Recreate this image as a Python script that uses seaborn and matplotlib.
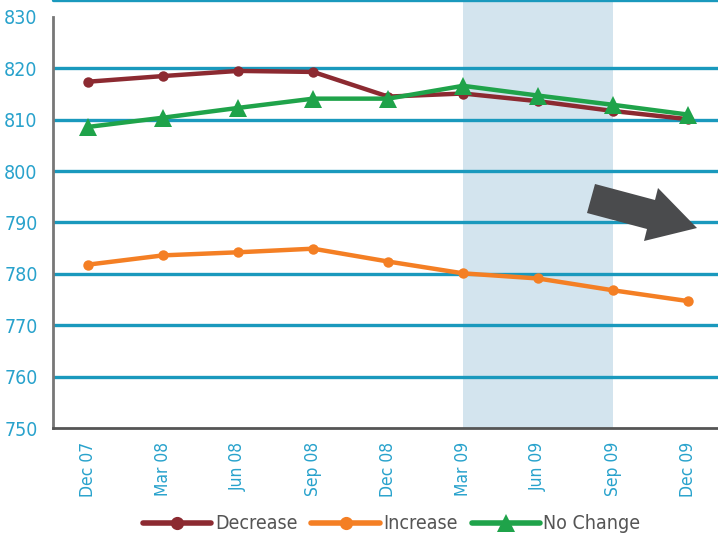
import matplotlib
matplotlib.use("Agg")
import matplotlib.pyplot as plt
from matplotlib.patches import Polygon
import seaborn as sns
import pandas as pd

quarters = ["Dec 07", "Mar 08", "Jun 08", "Sep 08", "Dec 08",
            "Mar 09", "Jun 09", "Sep 09", "Dec 09"]
decrease = [817.4, 818.5, 819.5, 819.3, 814.5, 815.1, 813.6, 811.7, 810.1]
increase = [781.8, 783.6, 784.2, 784.9, 782.4, 780.1, 779.1, 776.8, 774.7]
no_change = [808.6, 810.4, 812.3, 814.1, 814.1, 816.6, 814.7, 812.9, 811.0]
series = ["Decrease", "Increase", "No Change"]
y_ticks = [750, 760, 770, 780, 790, 800, 810, 820, 830]
shade_span = ("Mar 09", "Sep 09")

colors = {"Decrease": "#8c2a31", "Increase": "#f47f24", "No Change": "#1fa34a"}
markers = {"Decrease": "o", "Increase": "o", "No Change": "^"}
tick_blue = "#28a2cc"
grid_blue = "#1a99bd"

rows = []
for name, vals in zip(series, [decrease, increase, no_change]):
    for i, v in enumerate(vals):
        rows.append({"pos": i, "value": v, "series": name})
df = pd.DataFrame(rows)

sns.set_theme(style="white")
plt.rcParams["font.family"] = ["DejaVu Sans"]
plt.rcParams["font.stretch"] = "condensed"

fig = plt.figure(figsize=(7.18, 5.39), dpi=100)
ax = fig.add_axes([53 / 718, 1 - 428 / 539, 1 - 53 / 718, 428 / 539])

# shaded forecast band
ax.axvspan(quarters.index(shade_span[0]), quarters.index(shade_span[1]),
           color="#d3e4ee", zorder=0, lw=0)

# horizontal grid
for t in y_ticks[1:-1]:
    ax.axhline(t, color=grid_blue, lw=2.4, zorder=1)
ax.axhline(833.3, color=grid_blue, lw=2.4, zorder=1, clip_on=False)

sns.lineplot(data=df, x="pos", y="value", hue="series", style="series",
             palette=colors, markers=markers, dashes=False, lw=3.2,
             markersize=8, markeredgewidth=0, ax=ax, zorder=3, legend=False)
for line, name in zip(ax.get_lines()[-3:], series):
    if name == "No Change":
        line.set_markersize(12.5)
    else:
        line.set_markersize(7.5)

ax.set_xlim(-0.47, 8.4)
ax.set_ylim(750, 833.3)
ax.set_xlabel("")
ax.set_ylabel("")

ax.set_yticks(y_ticks)
ax.set_yticklabels([str(t) for t in y_ticks])
ax.tick_params(axis="y", length=0, pad=11, labelsize=14, labelcolor=tick_blue)

ax.set_xticks(range(len(quarters)))
ax.set_xticklabels(quarters, rotation=90, va="top", ha="center")
ax.tick_params(axis="x", which="major", length=0, pad=10, labelsize=12.5,
               labelcolor=tick_blue)
ax.set_xticks([i + 0.5 for i in range(len(quarters) - 1)], minor=True)
ax.tick_params(axis="x", which="minor", direction="in", length=12.5,
               width=1.8, color="#444444")

for s in ["top", "right"]:
    ax.spines[s].set_visible(False)
ax.spines["left"].set_bounds(750, 830)
ax.spines["left"].set_color("#777777")
ax.spines["left"].set_linewidth(2)
ax.spines["bottom"].set_color("#555555")
ax.spines["bottom"].set_linewidth(2)
ax.spines["left"].set_zorder(4)
ax.spines["bottom"].set_zorder(4)

# downward trend arrow
W, H = 718, 539
arrow_px = [(595, 184), (655, 200), (658, 188), (697, 228),
            (644, 241), (647, 229), (587, 213)]
arrow = Polygon([(x / W, 1 - y / H) for x, y in arrow_px], closed=True,
                transform=fig.transFigure, facecolor="#4a4b4d",
                edgecolor="none", zorder=5)
fig.patches.append(arrow)

handles = [plt.Line2D([], [], color=colors[n], lw=4, marker=markers[n],
                      markersize=13 if n == "No Change" else 9.5,
                      markeredgewidth=0) for n in series]
fig.legend(handles, series, loc="center", bbox_to_anchor=(0.546, 0.028),
           ncol=3, frameon=False, handlelength=3.5, handletextpad=0.2,
           columnspacing=0.7, numpoints=1, prop={"size": 14},
           labelcolor="#555555")

fig.savefig("out.png", dpi=100)
